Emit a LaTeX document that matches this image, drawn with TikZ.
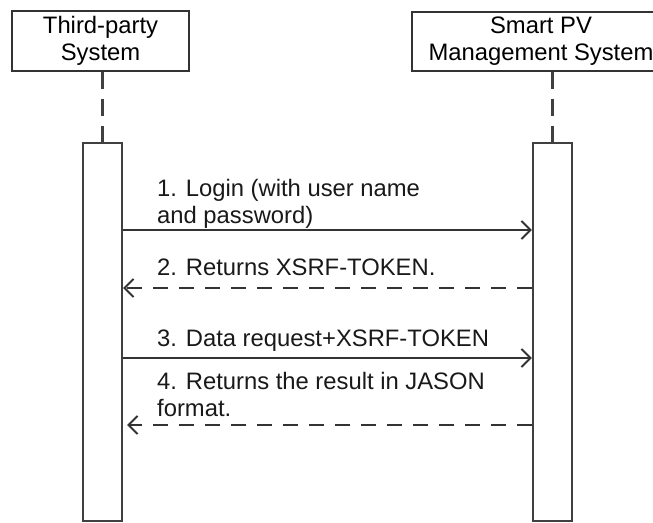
\documentclass[tikz,border=0pt]{standalone}
\usepackage{fontspec}
\setmainfont{Liberation Sans}
\usetikzlibrary{arrows.meta}

\tikzset{
  obj/.style={draw=black!80,line width=2pt,inner sep=0pt,align=center},
  actbar/.style={draw=black!75,line width=2.3pt,minimum width=39pt,minimum height=378pt,inner sep=0pt},
  life/.style={draw=black!75,line width=2.3pt,dash pattern=on 17pt off 10pt},
  msg/.style={draw=black!80,line width=2pt,-{Straight Barb[length=9pt,width=18pt]}},
  reply/.style={msg,dash pattern=on 15pt off 11pt},
  lbl/.style={anchor=base west,inner sep=0pt,align=left,text=black!90}
}

\begin{document}
\begin{tikzpicture}[x=1pt,y=-1pt,font=\fontsize{23.8}{27}\selectfont]
    \useasboundingbox (0,0) rectangle (653,522);
    \node[obj,minimum width=177pt,minimum height=60pt] (tps) at (100.5,41) {Third-party\\System};
    % runs past the right edge of the page
    \node[obj,minimum width=258pt,minimum height=59pt] (pvms) at (541,41) {Smart PV\\Management System};
    \node[actbar] (tpsbar) at (102.5,332) {};
    \node[actbar] (pvmsbar) at (552.5,332) {};
    \draw[life] (tpsbar.north |- tps.south) -- (tpsbar.north);
    \draw[life] (pvmsbar.north |- pvms.south) -- (pvmsbar.north);
    \coordinate (m1) at (0,230);
    \coordinate (m2) at (0,288);
    \coordinate (m3) at (0,358);
    \coordinate (m4) at (0,425);
    \draw[msg] (tpsbar.east |- m1) -- (pvmsbar.west |- m1);
    \draw[reply] (pvmsbar.west |- m2) -- (tpsbar.east |- m2);
    \draw[msg] (tpsbar.east |- m3) -- (pvmsbar.west |- m3);
    \draw[reply,shorten >=4pt] (pvmsbar.west |- m4) -- (tpsbar.east |- m4);
    % base of a two-line label is its last line
    \node[lbl] (l1) at (157,223.5) {1. Login (with user name\\and password)};
    \node[lbl] (l2) at (157,275.5) {2. Returns XSRF-TOKEN.};
    \node[lbl] (l3) at (157,346.5) {3. Data request+XSRF-TOKEN};
    \node[lbl] (l4) at (157,416.5) {4. Returns the result in JASON\\format.};
\end{tikzpicture}
\end{document}
